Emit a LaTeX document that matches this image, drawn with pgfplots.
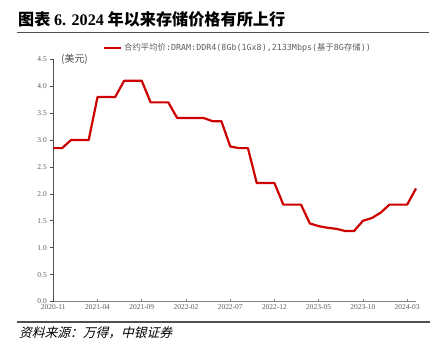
\documentclass[border=0pt]{standalone}
\usepackage{fontspec}
\usepackage{pgfplots}
\pgfplotsset{compat=1.18}
\setmainfont{Liberation Serif}
\newfontfamily\cjk{Noto Sans CJK SC}
\newfontfamily\cjkit[FakeSlant=0.25]{Noto Sans CJK SC}
\newfontfamily\monof{DejaVu Sans Mono}
\definecolor{linered}{RGB}{204,0,0}
\definecolor{tickgray}{RGB}{95,95,95}
\definecolor{rulegray}{RGB}{80,80,80}
\begin{document}
\begin{tikzpicture}[x=1bp,y=1bp]
\useasboundingbox (0,0) rectangle (448,352);
\begin{axis}[
  at={(53.3bp,50.5bp)}, anchor=south west,
  scale only axis, width=362.7bp, height=242.2bp,
  xmin=0, xmax=41, ymin=0, ymax=4.5,
  axis x line*=bottom, axis y line*=left,
  x axis line style={color=gray, line width=0.8bp},
  y axis line style={color=rulegray, line width=0.8bp},
  xtick={0,5,10,15,20,25,30,35,40},
  xticklabels={2020-11,2021-04,2021-09,2022-02,2022-07,2022-12,2023-05,2023-10,2024-03},
  ytick={0,0.5,...,4.5},
  major tick length=3bp,
  x tick style={color=gray, line width=0.6bp},
  y tick style={color=rulegray, line width=0.6bp},
  xtick align=inside, ytick align=outside,
  tick label style={font=\fontsize{7.5}{8}\selectfont, color=tickgray},
  /pgf/number format/assume math mode=true,
  yticklabel style={/pgf/number format/.cd, fixed, fixed zerofill, precision=1},
  clip=false,
]
\addplot[color=linered, line width=2.2bp, line join=round] coordinates {
(0,2.85) (1,2.85) (2,3.0) (3,3.0) (4,3.0) (5,3.8) (6,3.8) (7,3.8)
(8,4.1) (9,4.1) (10,4.1) (11,3.7) (12,3.7) (13,3.7) (14,3.41) (15,3.41)
(16,3.41) (17,3.41) (18,3.35) (19,3.35) (20,2.88) (21,2.85) (22,2.85)
(23,2.2) (24,2.2) (25,2.2) (26,1.8) (27,1.8) (28,1.8) (29,1.45) (30,1.40)
(31,1.37) (32,1.35) (33,1.31) (34,1.31) (35,1.50) (36,1.55) (37,1.65)
(38,1.80) (39,1.80) (40,1.80) (41,2.10)
};
\end{axis}
% title
\node[anchor=base west, inner sep=0pt] at (18,327) {\fontsize{16.2}{19}\selectfont\cjk\bfseries 图表\ {\rmfamily\bfseries 6. 2024} 年以来存储价格有所上行};
\draw[line width=1.6bp, color=rulegray] (17,319.5) -- (429,319.5);
% legend
\draw[line width=2bp, color=linered] (104,304.5) -- (121,304.5);
\node[anchor=west, inner sep=0pt, text=tickgray] at (124,304.5) {\fontsize{8.4}{10}\selectfont{\cjk 合约平均价}\monof :DRAM:DDR4(8Gb(1Gx8),2133Mbps({\cjk 基于}8G{\cjk 存储}))};
% unit
\node[anchor=west, inner sep=0pt, text=tickgray!80!black] at (61,293) {\fontsize{10}{12}\selectfont\cjk (美元)};
% bottom rule and source
\draw[line width=1.6bp, color=rulegray] (17,30) -- (430,30);
\node[anchor=west, inner sep=0pt] at (19,19.5) {\fontsize{12.8}{14}\selectfont\cjkit 资料来源：万得，中银证券};
\end{tikzpicture}
\end{document}
